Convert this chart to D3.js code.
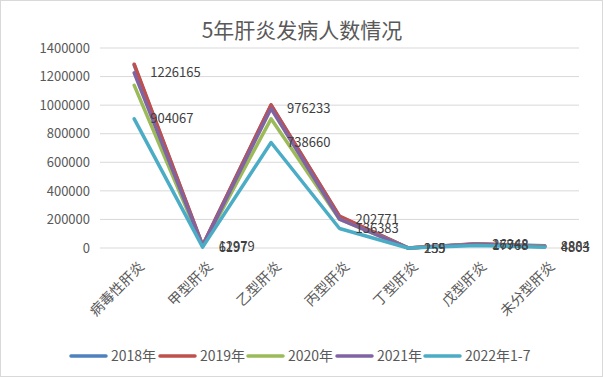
<!DOCTYPE html>
<html>
<head>
<meta charset="utf-8">
<script src="https://cdn.jsdelivr.net/npm/d3@7"></script>
<style>
  body { margin: 0; background: #fff; }
  text { font-family: "Noto Sans CJK SC", "Noto Sans", sans-serif; }
</style>
</head>
<body>
<div id="chart"></div>
<script>
const categories = ['病毒性肝炎', '甲型肝炎', '乙型肝炎', '丙型肝炎', '丁型肝炎', '戊型肝炎', '未分型肝炎']
const seriesNames = ['2018年', '2019年', '2020年', '2021年', '2022年1-7']
const colors = ['#4F81BD', '#C0504D', '#9BBB59', '#8064A2', '#4BACC6']
const v2018 = [1280015, 16196, 999985, 219375, 268, 28603, 15573]
const v2019 = [1286691, 19255, 1002334, 223660, 284, 29280, 12162]
const v2020 = [1138781, 11728, 904096, 201314, 246, 26752, 10648]
const v2021 = [1226165, 12979, 976233, 202771, 259, 26948, 8884]
const v2022 = [904067, 6197, 738660, 136383, 155, 17768, 4803]
const yTicks = [0, 200000, 400000, 600000, 800000, 1000000, 1200000, 1400000]
const labelled = [3, 4] // series with data labels

const allValues = [v2018, v2019, v2020, v2021, v2022]

const W = 603, H = 377
const margin = { left: 100, right: 24, top: 48, bottom: 129 }

const svg = d3.select('#chart').append('svg')
  .attr('width', W)
  .attr('height', H)

svg.append('rect')
  .attr('x', 0.5).attr('y', 0.5)
  .attr('width', W - 1).attr('height', H - 1)
  .attr('fill', '#fff')
  .attr('stroke', '#D9D9D9')

svg.append('text')
  .attr('x', 302).attr('y', 38)
  .attr('text-anchor', 'middle')
  .attr('font-size', 21)
  .attr('fill', '#595959')
  .text('5年肝炎发病人数情况')

const x = d3.scalePoint()
  .domain(categories)
  .range([margin.left, W - margin.right])
  .padding(0.5)

const y = d3.scaleLinear()
  .domain([0, 1400000])
  .range([H - margin.bottom, margin.top])

// gridlines
svg.append('g')
  .selectAll('line')
  .data(yTicks)
  .join('line')
  .attr('x1', margin.left)
  .attr('x2', W - margin.right)
  .attr('y1', d => y(d))
  .attr('y2', d => y(d))
  .attr('stroke', '#D9D9D9')
  .attr('stroke-width', 1)

// y axis labels
const yAxis = svg.append('g')
  .attr('transform', `translate(${margin.left - 10},0)`)
  .call(d3.axisLeft(y).tickValues(yTicks).tickSize(0).tickPadding(0).tickFormat(d3.format('d')))
yAxis.select('.domain').remove()
yAxis.selectAll('text')
  .attr('font-size', 13)
  .attr('fill', '#595959')
  .style('font-family', '"Noto Sans CJK SC", sans-serif')

// x axis labels
const xAxis = svg.append('g')
  .attr('transform', `translate(0,${H - margin.bottom})`)
  .call(d3.axisBottom(x).tickSize(0).tickFormat(d => d))
xAxis.select('.domain').remove()
xAxis.selectAll('text')
  .attr('font-size', 14)
  .attr('fill', '#595959')
  .attr('text-anchor', 'end')
  .attr('transform', 'translate(7,16) rotate(-45)')
  .attr('dy', '0.35em')
  .attr('y', 0)
  .style('font-family', '"Noto Sans CJK SC", sans-serif')

const line = d3.line()
  .x((d, i) => x(categories[i]))
  .y(d => y(d))

allValues.forEach((vals, s) => {
  svg.append('path')
    .datum(vals)
    .attr('d', line)
    .attr('fill', 'none')
    .attr('stroke', colors[s])
    .attr('stroke-width', 3.5)
    .attr('stroke-linejoin', 'round')
    .attr('stroke-linecap', 'round')
})

labelled.forEach(s => {
  svg.append('g')
    .selectAll('text')
    .data(allValues[s])
    .join('text')
    .attr('x', (d, i) => x(categories[i]) + 16)
    .attr('y', d => y(d))
    .attr('dy', '0.35em')
    .attr('font-size', 13)
    .attr('fill', '#404040')
    .text(d => d)
})

// legend
const legendX = [71, 160, 248, 337, 425]
const legend = svg.append('g')
  .selectAll('g')
  .data(seriesNames)
  .join('g')
  .attr('transform', (d, i) => `translate(${legendX[i]},356)`)
legend.append('line')
  .attr('x1', 0).attr('x2', 35)
  .attr('stroke', (d, i) => colors[i])
  .attr('stroke-width', 3.5)
  .attr('stroke-linecap', 'round')
legend.append('text')
  .attr('x', 40)
  .attr('dy', '0.35em')
  .attr('font-size', 14)
  .attr('fill', '#595959')
  .text(d => d)
</script>
</body>
</html>
